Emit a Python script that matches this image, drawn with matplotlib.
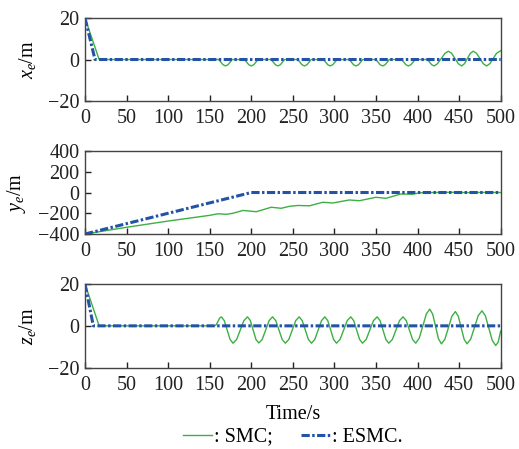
import matplotlib
matplotlib.use("Agg")
import matplotlib.pyplot as plt
from matplotlib.lines import Line2D

plt.rcParams['font.family'] = ['Liberation Serif', 'DejaVu Serif']
plt.rcParams['mathtext.fontset'] = 'custom'
plt.rcParams['mathtext.rm'] = 'Liberation Serif'
plt.rcParams['mathtext.it'] = 'Liberation Serif:italic'
plt.rcParams['axes.unicode_minus'] = True

# ---------------- data ----------------
# x_e panel
esmc_x_t = [0, 12, 500]
esmc_x_v = [20, 0, 0]
smc_x_t = [0, 17,
           161, 163.5, 166, 169, 172, 174.5, 177,
           192, 194.5, 197, 200, 203, 205.5, 208,
           224, 226.5, 229, 232, 235, 237.5, 240,
           256, 258.5, 261, 264, 267, 269.5, 272,
           287, 289.5, 292, 295, 298, 300.5, 303,
           318, 320.5, 323, 326, 329, 331.5, 334,
           350, 352.5, 355, 358, 361, 363.5, 366,
           381, 383.5, 386, 389, 392, 394.5, 397,
           412, 414.5, 417, 420,
           424, 428.5, 433, 437,
           441, 445, 449, 453,
           456.5, 460, 463.5, 467,
           471, 475, 479, 483,
           487, 491, 495, 500]
smc_x_v = [20, 0,
           0, -1.3, -2.5, -3.1, -2.5, -1.3, 0,
           0, -1.3, -2.5, -3.1, -2.5, -1.3, 0,
           0, -1.3, -2.5, -3.1, -2.5, -1.3, 0,
           0, -1.3, -2.5, -3.1, -2.5, -1.3, 0,
           0, -1.3, -2.5, -3.1, -2.5, -1.3, 0,
           0, -1.3, -2.5, -3.1, -2.5, -1.3, 0,
           0, -1.3, -2.5, -3.1, -2.5, -1.3, 0,
           0, -1.3, -2.5, -3.1, -2.5, -1.3, 0,
           0, -1.3, -2.5, -3.1,
           -2.0, 0.5, 3.0, 4.0,
           3.0, 0.5, -2.0, -3.1,
           -2.0, 0.5, 3.0, 4.0,
           3.0, 0.5, -2.0, -3.1,
           -2.0, 0.5, 3.0, 4.2]

# y_e panel
esmc_y_t = [0, 200, 500]
esmc_y_v = [-400, 0, 0]
smc_y_t = [0, 50, 100, 150, 160, 170, 178, 190, 206, 224, 236, 246, 256,
           270, 286, 298, 318, 330, 350, 362, 380, 394, 403, 420, 440,
           460, 480, 500]
smc_y_v = [-400, -335, -275, -220, -205, -210, -200, -173, -185, -142, -152,
           -133, -125, -128, -94, -101, -72, -79, -46, -56, -14, -17, -2, 0,
           2, -1, 1, 0]

# z_e panel
esmc_z_t = [0, 10, 500]
esmc_z_v = [20, 0, 0]
smc_z_t = [0, 17, 156, 158, 160, 162, 164,
           167.5, 171, 174.5, 178,
           182.4, 186.75, 191.1, 195.5,
           198.9, 202.25, 205.6, 209,
           213.15, 217.3, 221.45, 225.6,
           229.45, 233.3, 237.15, 241,
           245.15, 249.3, 253.45, 257.6,
           261.3, 265, 268.7, 272.4,
           276.4, 280.45, 284.5, 288.5,
           292, 295.5, 299, 302.5,
           306.8, 311.1, 315.4, 319.7,
           323.2, 326.75, 330.3, 333.8,
           338.2, 342.6, 347, 351.4,
           354.9, 358.4, 361.9, 365.4,
           369.7, 374, 378.3, 382.6,
           386.4, 390.2, 394, 397.8,
           402, 406.25, 410.5, 414.7,
           418.2, 421.7, 425.2, 428.7,
           432.9, 437.1, 441.3, 445.5,
           449, 452.5, 456, 459.5,
           464, 468.5, 473, 477.5,
           481.6, 485.75, 489.9, 494,
           497, 500]
smc_z_v = [20, 0, 0, 0.6, 2.2, 3.7, 4.3,
           2.5, -2.0, -6.5, -8.3,
           -6.5, -2.0, 2.5, 4.3,
           2.5, -2.0, -6.5, -8.2,
           -6.5, -2.0, 2.5, 4.3,
           2.5, -2.0, -6.5, -8.3,
           -6.5, -2.0, 2.5, 4.3,
           2.5, -2.0, -6.5, -8.3,
           -6.5, -2.0, 2.5, 4.3,
           2.5, -2.0, -6.5, -8.3,
           -6.5, -2.0, 2.5, 4.3,
           2.5, -2.0, -6.5, -8.3,
           -6.5, -2.0, 2.5, 4.3,
           2.5, -2.0, -6.5, -8.3,
           -6.5, -2.0, 2.5, 4.3,
           2.5, -2.0, -6.5, -8.3,
           -5.9, -0.2, 5.6, 8.0,
           5.6, -0.3, -6.2, -8.6,
           -6.4, -0.9, 4.6, 6.8,
           4.6, -0.9, -6.4, -8.6,
           -6.3, -0.7, 4.9, 7.2,
           4.8, -1.1, -7.0, -9.4,
           -7.8, -2.5]

xticks = [0, 50, 100, 150, 200, 250, 300, 350, 400, 450, 500]
yticks_x = [-20, 0, 20]
yticks_y = [-400, -200, 0, 200, 400]
yticks_z = [-20, 0, 20]
ylabels = [r'$x_e$/m', r'$y_e$/m', r'$z_e$/m']
xlabel = 'Time/s'
legend_labels = [': SMC;', ': ESMC.']

# ---------------- style ----------------
GREEN = '#3cb043'
BLUE = '#2353a6'
LW_B = 2.2
DASHDOT = (0, (2.7, 0.8, 0.8, 0.8))
FS = 14.5

fig = plt.figure(figsize=(5.19, 4.49), dpi=100)
left, width = 0.1638, 0.8009
positions = [(left, 0.775, width, 0.1849),
             (left, 0.4788, width, 0.1849),
             (left, 0.1811, width, 0.1864)]

panels = [
    (smc_x_t, smc_x_v, esmc_x_t, esmc_x_v, yticks_x, (-20, 20)),
    (smc_y_t, smc_y_v, esmc_y_t, esmc_y_v, yticks_y, (-400, 400)),
    (smc_z_t, smc_z_v, esmc_z_t, esmc_z_v, yticks_z, (-20, 20)),
]

for i, (pos, (st, sv, et, ev, yt, ylim)) in enumerate(zip(positions, panels)):
    ax = fig.add_axes(pos)
    ax.plot(st, sv, color=GREEN, lw=1.0, zorder=2)
    ax.plot(et, ev, color=BLUE, lw=LW_B, linestyle=DASHDOT, zorder=3)
    ax.set_xlim(0, 500)
    ax.set_ylim(*ylim)
    ax.set_xticks(xticks)
    ax.set_yticks(yt)
    ax.tick_params(axis='both', direction='in', length=4, width=1,
                   labelsize=FS, top=False, right=False, colors='#222222')
    ax.tick_params(axis='x', pad=6)
    ax.tick_params(axis='y', pad=4)
    for sp in ax.spines.values():
        sp.set_color('#444444')
        sp.set_linewidth(1.0)
    ax.set_ylabel(ylabels[i], fontsize=FS, labelpad=7)
    if i == 2:
        ax.set_xlabel(xlabel, fontsize=FS, labelpad=7)

handles = [Line2D([], [], color=GREEN, lw=1.0),
           Line2D([], [], color=BLUE, lw=LW_B, linestyle=DASHDOT)]
fig.legend(handles, legend_labels, loc='center',
           bbox_to_anchor=(293 / 519, 1 - 437 / 449), ncol=2, frameon=False,
           fontsize=FS, handlelength=1.45, handletextpad=0.1,
           columnspacing=1.4, borderpad=0)

fig.savefig('out.png', dpi=100)
